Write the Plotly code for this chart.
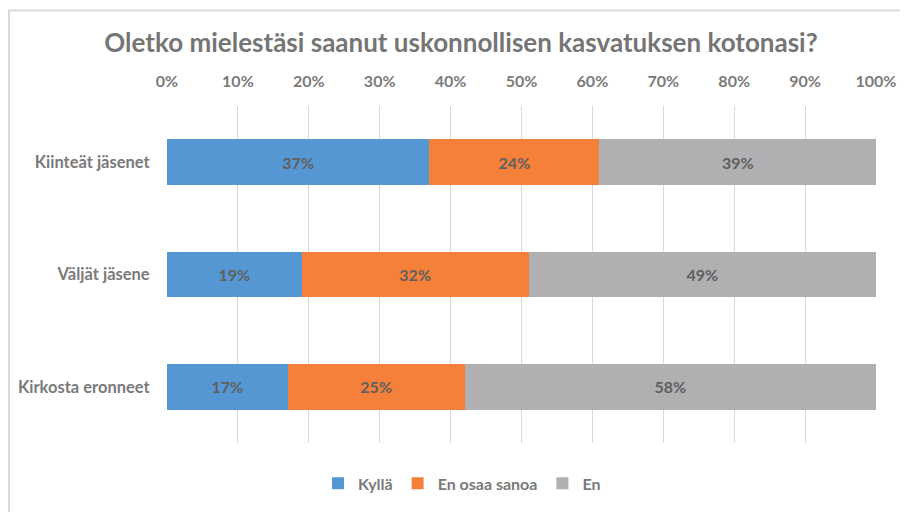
import plotly.graph_objects as go

categories = ["Kiinteät jäsenet", "Väljät jäsene", "Kirkosta eronneet"]
series_names = ["Kyllä", "En osaa sanoa", "En"]
kylla = [37, 19, 17]
en_osaa_sanoa = [24, 32, 25]
en = [39, 49, 58]
tick_vals = [0, 10, 20, 30, 40, 50, 60, 70, 80, 90, 100]
tick_labels = [f"{v}%" for v in tick_vals]

colors = ["#5597D3", "#F5803A", "#B0B0B3"]
FONT = "Lato"
W, H = 900, 504  # page body has an 8px margin
ML, MR, MT, MB = 159, 32, 98, 64
PW, PH = W - ML - MR, H - MT - MB

fig = go.Figure()
for name, vals, col in zip(series_names, [kylla, en_osaa_sanoa, en], colors):
    fig.add_trace(go.Bar(
        y=categories, x=vals, name=name, orientation="h",
        marker=dict(color=col, line=dict(width=0)),
        text=[f"{v}%" for v in vals], textposition="inside",
        insidetextanchor="middle",
        textfont=dict(family=FONT, size=16, color="#5F5F5F", weight="bold"),
    ))

fig.update_layout(
    width=W, height=H,
    barmode="stack", bargap=0.596,
    paper_bgcolor="white", plot_bgcolor="white",
    margin=dict(l=ML, r=MR, t=MT, b=MB),
    showlegend=True,
    title=dict(text="Oletko mielestäsi saanut uskonnollisen kasvatuksen kotonasi?",
               x=(461 - 8) / W, xref="container", xanchor="center",
               y=1 - (43 - 8) / H, yref="container", yanchor="middle",
               font=dict(family=FONT, size=26, color="#757575", weight="bold")),
    legend=dict(orientation="h", x=(462 - 167) / PW, xanchor="center",
                y=(448 - 489) / PH, yanchor="middle",
                font=dict(family=FONT, size=16, color="#7A7A7A", weight="bold"),
                traceorder="normal", itemwidth=30),
    xaxis=dict(side="top", range=[0, 100], tickvals=tick_vals, ticktext=tick_labels,
               showgrid=True, gridcolor="#D9D9D9", gridwidth=1, zeroline=False,
               showline=False, ticks="outside", ticklen=12, tickcolor="rgba(0,0,0,0)",
               automargin=False,
               tickfont=dict(family=FONT, size=16, color="#7A7A7A", weight="bold")),
    yaxis=dict(autorange="reversed", showgrid=False, zeroline=False, showline=False,
               ticks="outside", ticklen=13, tickcolor="rgba(0,0,0,0)",
               automargin=False,
               tickfont=dict(family=FONT, size=16.5, color="#7A7A7A", weight="bold")),
    shapes=[dict(type="rect", xref="paper", yref="paper",
                 x0=(1 - ML) / PW, x1=(W + 10 - ML) / PW,
                 y0=-(MB + 10) / PH, y1=(PH + MT - 1) / PH,
                 line=dict(color="#D9D9D9", width=2), layer="below")],
)

fig.write_html("out.html")
